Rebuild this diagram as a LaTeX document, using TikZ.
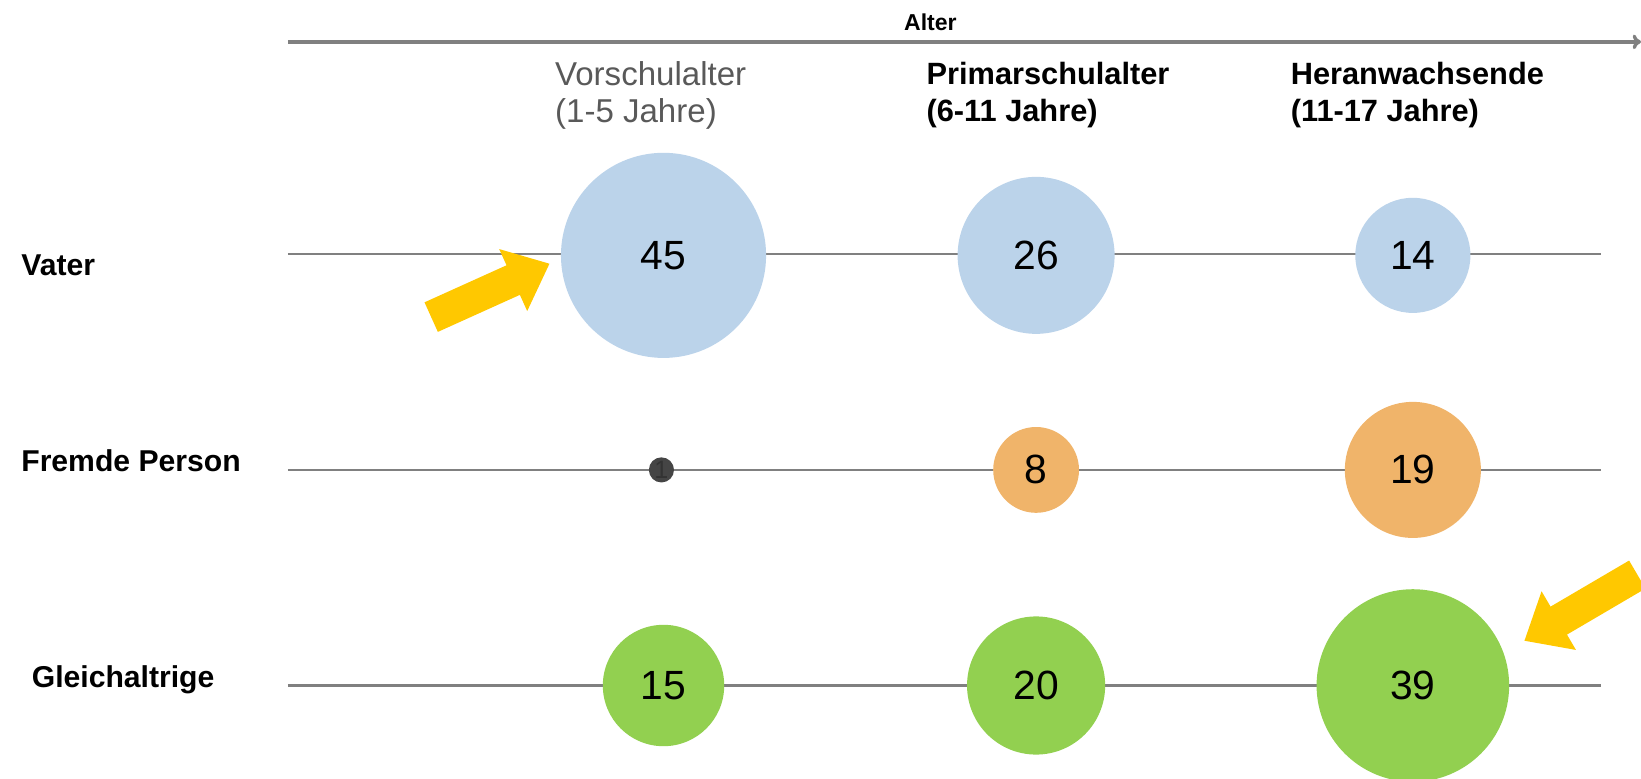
\documentclass[tikz,border=0pt]{standalone}
\usepackage{fontspec}
\setmainfont{Liberation Sans}
\usetikzlibrary{arrows.meta}
\definecolor{cblue}{HTML}{BBD3EA}
\definecolor{corange}{HTML}{F0B46A}
\definecolor{cgreen}{HTML}{92D050}
\definecolor{cdark}{HTML}{454545}
\definecolor{cline}{HTML}{808080}
\definecolor{cyellow}{HTML}{FFC800}
\definecolor{ctext}{HTML}{595959}
\tikzset{
  bubble/.style={circle, inner sep=0pt, font=\fontsize{19.5}{22}\selectfont, text=black},
  rowline/.style={draw=cline, line width=1.1pt},
  rowlabel/.style={anchor=west, inner sep=0pt, font=\fontsize{14.4}{16}\selectfont\bfseries},
  collabel/.style={anchor=west, inner sep=0pt, align=left},
  hintarrow/.style={fill=cyellow, draw=none}
}
\begin{document}
\begin{tikzpicture}[x=0.5pt, y=-0.5pt]
\useasboundingbox (0,0) rectangle (1568,744);
% axis
\coordinate (axL) at (275,40);
\coordinate (axR) at (1568,40);
\draw[draw=cline, line width=1.6pt, -{To[length=4pt,width=7pt]}] (axL) -- (axR);
\node[inner sep=0pt, font=\fontsize{11}{12}\selectfont\bfseries] (alter) at (889,21) {Alter};
% column labels
\node[collabel, font=\fontsize{15.8}{17.5}\selectfont, text=ctext] (c1) at (530,91) {Vorschulalter\\(1-5 Jahre)};
\node[collabel, font=\fontsize{14.7}{17.5}\selectfont\bfseries] (c2) at (885,91) {Primarschulalter\\(6-11 Jahre)};
\node[collabel, font=\fontsize{14.7}{17.5}\selectfont\bfseries] (c3) at (1233,91) {Heranwachsende\\(11-17 Jahre)};
% row labels
\node[rowlabel] (r1) at (20,253) {Vater};
\node[rowlabel] (r2) at (20,440) {Fremde Person};
\node[rowlabel] (r3) at (30,650) {Gleichaltrige};
% row lines
\coordinate (l1a) at (275,243); \coordinate (l1b) at (1530,243);
\coordinate (l2a) at (275,449); \coordinate (l2b) at (1530,449);
\coordinate (l3a) at (275,655); \coordinate (l3b) at (1530,655);
\draw[rowline] (l1a) -- (l1b);
\draw[rowline] (l2a) -- (l2b);
\draw[rowline] (l3a) -- (l3b);
% bubbles (minimum size in pt = radius in px units)
\node[bubble, fill=cblue, minimum size=98pt] (v1) at (634,244) {45};
\node[bubble, fill=cblue, minimum size=75pt] (v2) at (990,244) {26};
\node[bubble, fill=cblue, minimum size=55pt] (v3) at (1350,244) {14};
\node[bubble, fill=cdark, minimum size=12pt, text=black!80, font=\fontsize{12}{12}\selectfont] (f1) at (632,449) {1};
\node[bubble, fill=corange, minimum size=41pt] (f2) at (990,449) {8};
\node[bubble, fill=corange, minimum size=65pt] (f3) at (1350,449) {19};
\node[bubble, fill=cgreen, minimum size=58pt] (g1) at (634,655) {15};
\node[bubble, fill=cgreen, minimum size=66pt] (g2) at (990,655) {20};
\node[bubble, fill=cgreen, minimum size=92pt] (g3) at (1350,655) {39};
% yellow hint arrows
\coordinate (ya) at (412,303);
\coordinate (yb) at (1561,551);
\begin{scope}[shift={(ya)}, rotate=24.3]
  \fill[hintarrow] (0,-15.5) -- (86,-15.5) -- (86,-32.5) -- (124,0) -- (86,32.5) -- (86,15.5) -- (0,15.5) -- cycle;
\end{scope}
\begin{scope}[shift={(yb)}, rotate=210.4]
  \fill[hintarrow] (-4,-15.5) -- (83,-15.5) -- (83,-32.5) -- (121,0) -- (83,32.5) -- (83,15.5) -- (-4,15.5) -- cycle;
\end{scope}
\end{tikzpicture}
\end{document}
